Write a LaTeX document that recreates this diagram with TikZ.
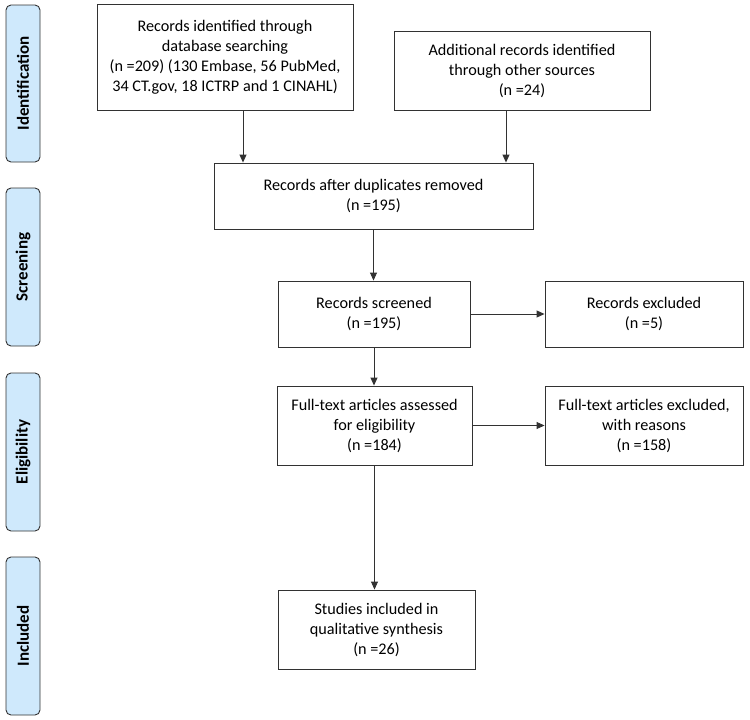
\documentclass[tikz,border=0pt]{standalone}
\usepackage{fontspec}
\setmainfont{Carlito}
\usetikzlibrary{arrows.meta}
\definecolor{sidefill}{RGB}{207,233,252}
\definecolor{linec}{RGB}{50,50,50}
\tikzset{
  flowbox/.style={draw=linec, line width=0.9pt, align=center, inner sep=2pt,
    font=\fontsize{16.2}{20}\selectfont},
  sidebox/.style={draw=linec, line width=0.9pt, fill=sidefill, rounded corners=5pt,
    minimum width=34pt, inner sep=0pt},
  sidelabel/.style={rotate=90, font=\bfseries\fontsize{17}{18}\selectfont},
  arr/.style={draw=linec, line width=0.9pt, -{Triangle[length=8pt,width=7pt]}}
}
\begin{document}
\begin{tikzpicture}[x=1pt,y=-1pt]
\useasboundingbox (0,0) rectangle (750,720);
% side phase boxes
\node[sidebox, minimum height=157pt] (sid) at (23,83.5) {};
\node[sidelabel] (lid) at (sid.center) {Identification};
\node[sidebox, minimum height=158pt] (sscr) at (23,267) {};
\node[sidelabel] (lscr) at (sscr.center) {Screening};
\node[sidebox, minimum height=158pt] (seli) at (23,452) {};
\node[sidelabel] (leli) at (seli.center) {Eligibility};
\node[sidebox, minimum height=158pt] (sinc) at (23,636) {};
\node[sidelabel] (linc) at (sinc.center) {Included};
% flow boxes
\node[flowbox, minimum width=256pt, minimum height=106pt] (b1) at (225,57)
  {Records identified through\\database searching\\(n =209) (130 Embase, 56 PubMed,\\34 CT.gov, 18 ICTRP and 1 CINAHL)};
\node[flowbox, minimum width=256pt, minimum height=79pt] (b2) at (522,70.5)
  {Additional records identified\\through other sources\\(n =24)};
\node[flowbox, minimum width=319pt, minimum height=66pt] (b3) at (373.5,196)
  {Records after duplicates removed\\(n =195)};
\node[flowbox, minimum width=192pt, minimum height=66pt] (b4) at (374,314)
  {Records screened\\(n =195)};
\node[flowbox, minimum width=198pt, minimum height=66pt] (b4x) at (644,314)
  {Records excluded\\(n =5)};
\node[flowbox, minimum width=195pt, minimum height=79pt] (b5) at (374.5,425.5)
  {Full-text articles assessed\\for eligibility\\(n =184)};
\node[flowbox, minimum width=198pt, minimum height=79pt] (b6) at (644,425.5)
  {Full-text articles excluded,\\with reasons\\(n =158)};
\node[flowbox, minimum width=197pt, minimum height=79pt] (b7) at (376.5,629.5)
  {Studies included in\\qualitative synthesis\\(n =26)};
% connectors
\draw[arr] ([xshift=18pt]b1.south) -- ([xshift=18pt]b1.south |- b3.north);
\draw[arr] ([xshift=-16pt]b2.south) -- ([xshift=-16pt]b2.south |- b3.north);
\draw[arr] (b3.south) -- (b3.south |- b4.north);
\draw[arr] (b4.east) -- (b4x.west);
\draw[arr] (b4.south) -- (b4.south |- b5.north);
\draw[arr] (b5.east) -- (b6.west);
\draw[arr] (b5.south) -- (b5.south |- b7.north);
\end{tikzpicture}
\end{document}
